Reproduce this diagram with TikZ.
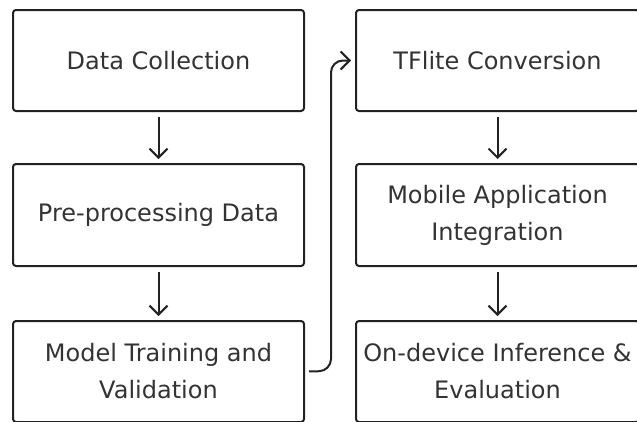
\documentclass[tikz,border=0pt]{standalone}
\usepackage{fontspec}
\setmainfont{DejaVu Sans}
\usetikzlibrary{arrows.meta}
\definecolor{ink}{HTML}{222222}
\definecolor{txt}{HTML}{333333}
\begin{document}
\begin{tikzpicture}[x=1pt,y=-1pt,
  stepbox/.style={draw=ink, line width=2pt, rounded corners=3pt, fill=white,
    text=txt, font=\fontsize{24}{37}\selectfont, align=center, inner sep=0pt},
  leftbox/.style={stepbox, minimum width=291pt, minimum height=101pt},
  rightbox/.style={stepbox, minimum width=283pt, minimum height=101pt},
  flow/.style={draw=ink, line width=2pt, -{Straight Barb[length=9pt,width=18pt,line width=2pt]}, shorten <=5pt, shorten >=4pt}]
\useasboundingbox (0,0) rectangle (637,421);
\clip (0,0) rectangle (637,421);
\node[leftbox] (dc) at (158.5,60.5) {Data Collection};
\node[leftbox, minimum height=102pt] (pp) at (158.5,215) {Pre-processing Data};
\node[leftbox] (mt) at (158.5,371.5) {Model Training and\\Validation};
\node[rightbox] (tf) at (497.5,60.5) {TFlite Conversion};
\node[rightbox, minimum height=102pt] (ma) at (497.5,215) {Mobile Application\\Integration};
\node[rightbox] (od) at (497.5,371.5) {On-device Inference \&\\Evaluation};
\draw[flow] (dc) -- (pp);
\draw[flow] (pp) -- (mt);
\draw[flow] (tf) -- (ma);
\draw[flow] (ma) -- (od);
\coordinate (c1) at (331,371);
\coordinate (c2) at (331,60.5);
\draw[flow, rounded corners=12pt, shorten <=4pt] (mt.east) -- (c1) -- (c2) -- (tf.west);
\end{tikzpicture}
\end{document}
